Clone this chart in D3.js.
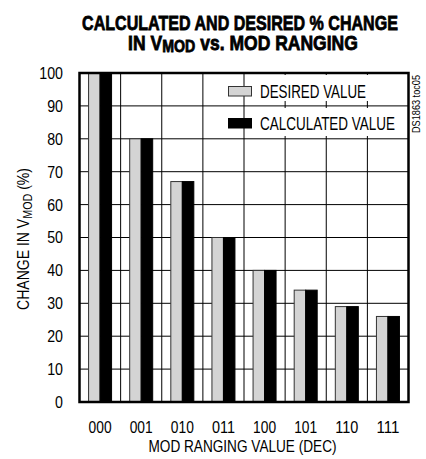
<!DOCTYPE html>
<html>
<head>
<meta charset="utf-8">
<script src="https://cdn.jsdelivr.net/npm/d3@7"></script>
<style>
  html, body { margin: 0; padding: 0; background: #fff; }
  svg { display: block; }
  text { font-family: "Liberation Sans Narrow", "Liberation Sans", Arial, sans-serif; fill: #000; }
</style>
</head>
<body>
<script>
const categories = ["000", "001", "010", "011", "100", "101", "110", "111"];
const desired    = [100, 80, 67, 50, 40, 34, 29, 26];
const calculated = [100, 80, 67, 50, 40, 34, 29, 26];
const yTicks = [0, 10, 20, 30, 40, 50, 60, 70, 80, 90, 100];
const seriesNames = ["DESIRED VALUE", "CALCULATED VALUE"];

const W = 426, H = 459;
const plot = { left: 79.5, right: 408.5, top: 73, bottom: 402 };

const svg = d3.select("body").append("svg").attr("width", W).attr("height", H);

const x = d3.scaleBand().domain(categories).range([plot.left, plot.right]).padding(0);
const y = d3.scaleLinear().domain([0, 100]).range([plot.bottom, plot.top]);

function fitGroup(g, target, tx, ty, rot) {
  const w = g.node().getBBox().width;
  const s = target / w;
  g.attr("transform", `translate(${tx},${ty})` + (rot ? ` rotate(${rot})` : "") + ` scale(${s},1)`);
}

// grid
const grid = svg.append("g");
grid.selectAll("line.h").data(yTicks.slice(1, -1)).join("line")
  .attr("x1", plot.left).attr("x2", plot.right)
  .attr("y1", d => y(d)).attr("y2", d => y(d))
  .attr("stroke", "#000").attr("stroke-width", 1);
grid.selectAll("line.v").data(categories.slice(1)).join("line")
  .attr("x1", d => x(d)).attr("x2", d => x(d))
  .attr("y1", plot.top).attr("y2", plot.bottom)
  .attr("stroke", "#000").attr("stroke-width", 1);

// bars
const bw = 11.5;
const bars = svg.append("g");
bars.selectAll("rect.des").data(categories).join("rect")
  .attr("x", (d) => x(d) + x.bandwidth() / 2 - bw)
  .attr("y", (d, i) => y(desired[i]))
  .attr("width", bw)
  .attr("height", (d, i) => y(0) - y(desired[i]))
  .attr("fill", "#d4d4d4").attr("stroke", "#333").attr("stroke-width", 1);
bars.selectAll("rect.cal").data(categories).join("rect")
  .attr("x", (d) => x(d) + x.bandwidth() / 2)
  .attr("y", (d, i) => y(calculated[i]))
  .attr("width", bw)
  .attr("height", (d, i) => y(0) - y(calculated[i]))
  .attr("fill", "#000").attr("stroke", "#000").attr("stroke-width", 1);

// legend
const leg = svg.append("g");
leg.append("rect").attr("x", 254).attr("y", 75).attr("width", 150).attr("height", 26).attr("fill", "#fff");
leg.append("rect").attr("x", 254).attr("y", 108).attr("width", 150).attr("height", 28).attr("fill", "#fff");
leg.append("rect").attr("x", 228.5).attr("y", 86.5).attr("width", 23).attr("height", 9.5)
  .attr("fill", "#d4d4d4").attr("stroke", "#333").attr("stroke-width", 1);
leg.append("rect").attr("x", 228.5).attr("y", 118.5).attr("width", 23).attr("height", 9.5)
  .attr("fill", "#000").attr("stroke", "#000").attr("stroke-width", 1);
leg.append("text").attr("x", 260).attr("y", 98.3).attr("font-size", 18)
  .attr("textLength", 106).attr("lengthAdjust", "spacingAndGlyphs").text(seriesNames[0]);
leg.append("text").attr("x", 260).attr("y", 130).attr("font-size", 18)
  .attr("textLength", 135).attr("lengthAdjust", "spacingAndGlyphs").text(seriesNames[1]);

// frame
svg.append("rect").attr("x", plot.left).attr("y", plot.top)
  .attr("width", plot.right - plot.left).attr("height", plot.bottom - plot.top)
  .attr("fill", "none").attr("stroke", "#000").attr("stroke-width", 2.5);

// axes (labels only)
const yAxis = svg.append("g").attr("transform", `translate(${plot.left},0)`)
  .call(d3.axisLeft(y).tickValues(yTicks).tickSize(0).tickPadding(16.5));
yAxis.select(".domain").remove();
yAxis.attr("font-family", null);
yAxis.selectAll("text").attr("font-size", 17).attr("fill", "#000")
  .attr("textLength", d => String(d).length * 7.9).attr("lengthAdjust", "spacingAndGlyphs");

const xAxis = svg.append("g").attr("transform", `translate(0,${plot.bottom})`)
  .call(d3.axisBottom(x).tickSize(0).tickPadding(18.5));
xAxis.select(".domain").remove();
xAxis.attr("font-family", null);
xAxis.selectAll("text").attr("font-size", 17).attr("fill", "#000")
  .attr("textLength", 23).attr("lengthAdjust", "spacingAndGlyphs");

// x axis title
svg.append("text").attr("x", 242.5).attr("y", 452).attr("text-anchor", "middle").attr("font-size", 17)
  .attr("textLength", 188).attr("lengthAdjust", "spacingAndGlyphs").text("MOD RANGING VALUE (DEC)");

// y axis title
const yt = svg.append("g");
const ytt = yt.append("text").attr("text-anchor", "middle").attr("font-size", 17);
ytt.append("tspan").text("CHANGE IN V");
ytt.append("tspan").attr("font-size", 13).attr("dy", 3).text("MOD");
ytt.append("tspan").attr("dy", -3).text(" (%)");
fitGroup(yt, 142, 28.5, 239, -90);

// title
const t1 = svg.append("g");
t1.append("text").attr("text-anchor", "middle").attr("font-size", 21).attr("font-weight", "bold")
  .attr("stroke", "#000").attr("stroke-width", 0.8)
  .text("CALCULATED AND DESIRED % CHANGE");
fitGroup(t1, 316, 240, 30);
const t2 = svg.append("g");
const t2t = t2.append("text").attr("text-anchor", "middle").attr("font-size", 21).attr("font-weight", "bold")
  .attr("stroke", "#000").attr("stroke-width", 0.8);
t2t.append("tspan").text("IN V");
t2t.append("tspan").attr("font-size", 17).attr("dy", 2).text("MOD");
t2t.append("tspan").attr("dy", -2).text(" vs. MOD RANGING");
fitGroup(t2, 230, 243, 50);

// side code
svg.append("text").attr("transform", "translate(420,133) rotate(-90)").attr("font-size", 11)
  .attr("textLength", 58).attr("lengthAdjust", "spacingAndGlyphs").text("DS1863 toc05");
</script>
</body>
</html>
